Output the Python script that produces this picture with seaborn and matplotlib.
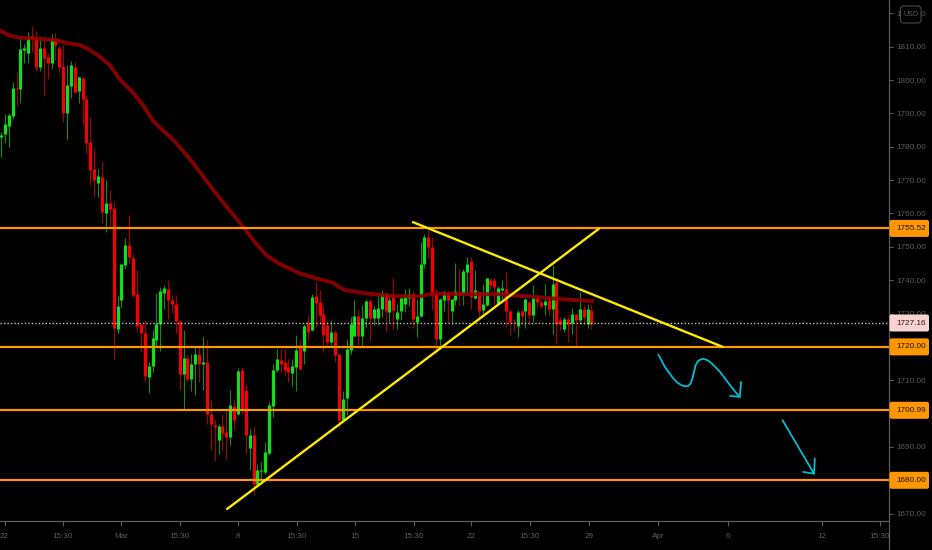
import pandas as pd
import matplotlib
matplotlib.use("Agg")
import matplotlib.pyplot as plt
from matplotlib.lines import Line2D
from matplotlib.patches import FancyBboxPatch
from matplotlib.transforms import IdentityTransform
import seaborn as sns

# Candles
opens = [
    1782.8, 1783.8, 1786.3, 1789.2, 1797.6, 1797.3, 1808.9, 1808, 1813.2, 1812.8,
    1804, 1809.6, 1807, 1805, 1812.2, 1809.6, 1804.2, 1790.2, 1798.3, 1804,
    1796.7, 1800.6, 1794.4, 1781.5, 1773.2, 1769.2, 1771, 1760.2, 1763, 1761.5,
    1725.5, 1734, 1744.5, 1750.5, 1746.7, 1735.8, 1726.8, 1724.3, 1711, 1714.2,
    1722.2, 1726.8, 1736.2, 1737.5, 1734, 1733, 1727.8, 1711.8, 1716.8, 1710.5,
    1714.8, 1718, 1714.8, 1715.5, 1700, 1696.5, 1692, 1696.2, 1694.5, 1693,
    1702.2, 1699.8, 1713, 1707.2, 1689.8, 1693.5, 1679, 1682.7, 1682.5, 1688.3,
    1702.2, 1713, 1716.2, 1715.5, 1714, 1712.2, 1714, 1720.5, 1718.8, 1727.5,
    1725.2, 1735.4, 1733.6, 1729.8, 1726.5, 1721.4, 1724.6, 1717.8, 1698, 1704.7,
    1719.2, 1723.4, 1729.2, 1723.4, 1728.6, 1733.8, 1728.8, 1728.8, 1731.5, 1736.2,
    1730.6, 1735, 1728.5, 1730.8, 1732.8, 1734.6, 1736, 1727.6, 1729.2, 1745,
    1752.8, 1749.8, 1735.8, 1722.5, 1734, 1736.2, 1730.8, 1734, 1736.5, 1735.8,
    1742.5, 1745.7, 1734.8, 1736.5, 1731, 1732.5, 1740.2, 1740.2, 1733, 1737.2,
    1737.5, 1730.8, 1727.5, 1726.2, 1730.8, 1730.8, 1733.6, 1729.5, 1735, 1733.5,
    1732.5, 1734, 1731.5, 1739.4, 1728.2, 1725.5, 1728.5, 1727.2, 1729.8, 1728.2,
    1731.5, 1727, 1731.2,
]
highs = [
    1784.5, 1789.7, 1790.2, 1799.3, 1802.5, 1812.8, 1810.8, 1814.3, 1816.3, 1814.7,
    1812.8, 1812.5, 1808, 1813.8, 1814, 1810.5, 1810.5, 1804.5, 1805.8, 1805.5,
    1801.2, 1801, 1795.4, 1788.8, 1779.5, 1773.2, 1775.6, 1770, 1767, 1763.4,
    1735.3, 1744.8, 1752.5, 1759.5, 1747.7, 1743, 1727, 1728, 1715.5, 1725,
    1736.2, 1738, 1738.5, 1740, 1735.5, 1735.5, 1728, 1725, 1718, 1718,
    1720, 1720.5, 1723, 1722, 1704, 1698.5, 1697, 1700, 1700.8, 1707.2,
    1704.5, 1713.8, 1714, 1708.8, 1695.5, 1696.2, 1685, 1685.5, 1691.5, 1703.5,
    1715, 1719.5, 1719.5, 1719.5, 1716.5, 1716.5, 1723.5, 1722.5, 1727, 1729.5,
    1735.8, 1739.5, 1737.2, 1732.5, 1728.2, 1728, 1725, 1718, 1706.8, 1722.4,
    1729, 1734, 1731, 1732.5, 1734.4, 1734.4, 1732.2, 1735.8, 1737, 1736.6,
    1735.8, 1740.8, 1732.8, 1735, 1737.5, 1737.8, 1736.8, 1734.4, 1751.5, 1753.8,
    1755, 1752.8, 1737.5, 1734.8, 1737.2, 1736.8, 1734.5, 1745.2, 1743.5, 1743.5,
    1746.8, 1747, 1743, 1736.8, 1738.8, 1740.8, 1740.8, 1740.8, 1738.2, 1740,
    1742.5, 1731.5, 1728.5, 1731.2, 1731.2, 1734.8, 1734.2, 1738.5, 1735.5, 1734,
    1739, 1735.5, 1744.5, 1740.5, 1729, 1729, 1729.5, 1731.8, 1730, 1736.5,
    1732.5, 1732.8, 1732.8,
]
lows = [
    1776.8, 1781, 1780, 1788.4, 1792.3, 1793, 1805, 1805.2, 1808.5, 1802.8,
    1802.8, 1795.2, 1800.3, 1803.4, 1806, 1802.2, 1787.5, 1782.2, 1794.5, 1796,
    1793, 1786.5, 1778, 1768.5, 1765, 1764.8, 1757, 1754.5, 1756.3, 1716.4,
    1724.2, 1732, 1743.5, 1745, 1735, 1724.7, 1718.5, 1709.5, 1706.2, 1712.5,
    1720, 1718.7, 1731.5, 1728.5, 1730.2, 1724.2, 1707, 1701.2, 1709.5, 1706.8,
    1705.5, 1709.5, 1707, 1697, 1689.2, 1685.8, 1688, 1689, 1686.5, 1690.5,
    1695.5, 1699.5, 1699.8, 1688, 1683, 1675.5, 1678.5, 1679, 1681.8, 1687.5,
    1699, 1712.5, 1712.5, 1711.5, 1709.5, 1708.2, 1706.8, 1713, 1715, 1722,
    1724.8, 1726, 1727, 1718.5, 1720.5, 1720.5, 1715.5, 1696, 1697.5, 1699.5,
    1718, 1723.2, 1720.5, 1720.5, 1726, 1721.8, 1726.5, 1726.5, 1729, 1724.5,
    1727.5, 1725.5, 1725.5, 1728, 1730.5, 1732.2, 1725.8, 1723, 1729, 1743.7,
    1746.5, 1731.2, 1718, 1720, 1730.8, 1727.5, 1727, 1732.5, 1732.2, 1732.5,
    1735.8, 1731.5, 1734.5, 1728, 1729.5, 1732.3, 1737, 1732.5, 1732.5, 1734.5,
    1726, 1723.5, 1724.8, 1723, 1726.8, 1725.8, 1726.8, 1727.5, 1731.8, 1731.8,
    1729.5, 1729.5, 1724, 1720.8, 1725, 1724.5, 1721.5, 1724, 1720.2, 1726.8,
    1726.8, 1725.8, 1725.5,
]
closes = [
    1783.5, 1786.7, 1789.5, 1797.5, 1797.4, 1809.2, 1809.6, 1812.8, 1812.2, 1804,
    1809.6, 1806.5, 1805, 1812.3, 1810.5, 1804, 1790.2, 1798.5, 1804.5, 1796.5,
    1800.8, 1794.2, 1781.2, 1773, 1770, 1771.2, 1760.4, 1763.2, 1761.2, 1725.8,
    1732.2, 1744.8, 1750.5, 1747, 1735.5, 1726.2, 1724.3, 1711.2, 1714.3, 1722.6,
    1727, 1736.8, 1737.8, 1734, 1733, 1727.8, 1711.8, 1716.8, 1710.5, 1715,
    1717.8, 1714.8, 1715.5, 1700, 1696.8, 1696, 1696.2, 1694.2, 1693, 1702.5,
    1698.2, 1712.7, 1701.2, 1693.5, 1693.5, 1679, 1683, 1683, 1688.5, 1702.5,
    1713.2, 1716.5, 1715, 1713, 1712.5, 1714.2, 1719, 1713.3, 1726.2, 1724.5,
    1735, 1733.2, 1729.5, 1723.5, 1721.5, 1724.6, 1717.5, 1698, 1704.5, 1719.4,
    1727, 1729.2, 1723.3, 1728.8, 1733.8, 1728.8, 1731.4, 1731.8, 1736, 1730.8,
    1734, 1731, 1730.4, 1734.8, 1735.4, 1736, 1728.4, 1729.4, 1745, 1752.8,
    1749.8, 1735.5, 1722.5, 1734.4, 1736.2, 1734.2, 1734.4, 1736.8, 1735.5, 1742.8,
    1745, 1735, 1737, 1730.8, 1732.8, 1740.8, 1738.5, 1738, 1737.8, 1737.8,
    1730.8, 1727.5, 1727.4, 1730.4, 1729.2, 1734.4, 1729.5, 1734.8, 1733.6, 1732.2,
    1733.8, 1731.5, 1738.8, 1727, 1727, 1728.3, 1727, 1729.8, 1728.2, 1731.5,
    1729, 1731.3, 1727,
]

# Moving average
ma_bar = [-0.3, 2.3, 4.9, 10.9, 14.3, 16.5, 20.3, 22.5, 25.2, 28, 30.6, 33.6, 36.5, 39.2,
          41.8, 44.8, 48.5, 52.1, 55, 58.1, 62.3, 65.3, 68.3, 71.5, 74.8, 77, 81.3, 85.6,
          87, 88.6, 94.2, 101, 107.9, 111.3, 119.9, 128.5, 137, 145.6, 152.3]
ma_price = [1814.8, 1813.3, 1812.7, 1812.3, 1812, 1811.2, 1810.5, 1809.3, 1807.2, 1804.5,
            1800.2, 1796.7, 1792.6, 1787.7, 1784.8, 1781.5, 1776.5, 1771, 1766.5, 1762,
            1756, 1751.5, 1747.5, 1745, 1743.2, 1742, 1740.5, 1739.2, 1738, 1737, 1736,
            1735.2, 1735.2, 1736, 1735.8, 1735.8, 1735, 1734.2, 1733.7]

# Price levels and drawings
levels = [1755.52, 1720.00, 1700.99, 1680.00]
last_price = 1727.16
rise_bar = [58.2, 153.9]
rise_price = [1671.4, 1755.4]
fall_bar = [106.05, 185.8]
fall_price = [1757.4, 1720]
curve_bar = [169.2, 170.1, 170.9, 172, 173.1, 174.1, 175.2, 176.1, 176.9, 177.5, 178,
             178.4, 178.8, 179.5, 180.2, 180.8, 181.7, 182.5, 183.8, 185.1, 186.4, 187.7,
             188.9, 190.2]
curve_price = [1717.7, 1715.8, 1714, 1712.2, 1710.5, 1709.3, 1708.5, 1708.2, 1708.3, 1709,
               1710.5, 1712.5, 1714.5, 1715.8, 1716.3, 1716.4, 1716.1, 1715.5, 1714.1,
               1712.5, 1710.5, 1708.5, 1706.7, 1705]
curve_head_bar = [187.7, 190.2, 190.5]
curve_head_price = [1705.3, 1705, 1709.5]
arrow_bar = [201.2, 209.3]
arrow_price = [1698, 1682]
arrow_head_bar = [206.5, 209.3, 209.5]
arrow_head_price = [1682.5, 1682, 1686.5]

# Axis labels (1680 and 1720 sit under their price tags)
y_ticks = [1670, 1680, 1690, 1700, 1710, 1720, 1730, 1740, 1750, 1760, 1770,
           1780, 1790, 1800, 1810, 1820]
y_labels = ["1670.00", "", "1690.00", "", "1710.00", "", "1730.00", "1740.00", "1750.00",
            "1760.00", "1770.00", "1780.00", "1790.00", "1800.00", "1810.00", "1820.00"]
x_ticks = [0.9, 16, 30.9, 46.1, 61, 76.2, 91.1, 106.3, 121, 136.2, 151.4, 169.1,
           187.1, 211.3, 226.3]
x_labels = ["22", "15:30", "Mar", "15:30", "8", "15:30", "15", "15:30", "22",
            "15:30", "29", "Apr", "6", "12", "15:30"]

GREY = "#5c5c5c"
ORANGE = "#ff9800"
YELLOW = "#ffeb00"
CYAN = "#00bcd4"
TICK_SIZE = 5.9

sns.set_theme(style="dark", rc={"axes.facecolor": "black", "figure.facecolor": "black"})
plt.rcParams["font.family"] = ["Liberation Sans"]

df = pd.DataFrame({"open": opens, "high": highs, "low": lows, "close": closes})
df["bar"] = df.index
df["dir"] = ["up" if c >= o else "down" for o, c in zip(opens, closes)]

df["top"] = df[["open", "close"]].max(axis=1)
df["bottom"] = df[["open", "close"]].min(axis=1)
wicks = df.melt(id_vars=["bar", "dir"], value_vars=["high", "low"], value_name="price")
bodies = df.melt(id_vars=["bar", "dir"], value_vars=["top", "bottom"], value_name="price")

fig = plt.figure(figsize=(9.32, 5.5), dpi=100)
ax = fig.add_axes([0, 29 / 550, 889 / 932, 521 / 550])

# Candles: thin wick, then wide body
sns.lineplot(data=wicks, x="bar", y="price", units="bar", estimator=None, hue="dir",
             palette={"up": "#0c8f12", "down": "#a50000"}, linewidth=0.8,
             solid_capstyle="butt", legend=False, ax=ax, zorder=2)
sns.lineplot(data=bodies, x="bar", y="price", units="bar", estimator=None, hue="dir",
             palette={"up": "#10e018", "down": "#f40000"}, linewidth=2.3,
             solid_capstyle="butt", legend=False, ax=ax, zorder=3)

# Moving average
sns.lineplot(x=ma_bar, y=ma_price, estimator=None, sort=False, color="#960000",
             linewidth=2.8, alpha=0.88, ax=ax, zorder=4)

# Levels
ax.axhline(last_price, color="#c4c4c4", linewidth=1, linestyle=(0, (1, 1.5)), zorder=4)
for level in levels:
    ax.axhline(level, color=ORANGE, linewidth=1.6, zorder=5)

# Trend lines and hand drawn arrows
sns.lineplot(x=rise_bar, y=rise_price, estimator=None, color=YELLOW, linewidth=1.7, ax=ax, zorder=6)
sns.lineplot(x=fall_bar, y=fall_price, estimator=None, color=YELLOW, linewidth=1.7, ax=ax, zorder=6)
for xs, ys in [(curve_bar, curve_price), (curve_head_bar, curve_head_price),
               (arrow_bar, arrow_price), (arrow_head_bar, arrow_head_price)]:
    sns.lineplot(x=xs, y=ys, estimator=None, sort=False, color=CYAN, linewidth=1.3,
                 ax=ax, zorder=6)

ax.set_xlim(-0.26, 228.6)
ax.set_ylim(1667.8, 1824)
ax.set_xlabel("")
ax.set_ylabel("")
ax.grid(False)

ax.yaxis.tick_right()
ax.set_yticks(y_ticks)
ax.set_yticklabels(y_labels)
ax.set_xticks(x_ticks)
ax.set_xticklabels(x_labels)
ax.tick_params(axis="y", colors=GREY, labelsize=TICK_SIZE, length=3, width=0.8, pad=2.5, right=True)
ax.tick_params(axis="x", colors=GREY, labelsize=TICK_SIZE, length=3.5, width=0.8, pad=5, bottom=True)

for side in ["top", "left"]:
    ax.spines[side].set_visible(False)
for side in ["right", "bottom"]:
    ax.spines[side].set_color(GREY)
    ax.spines[side].set_linewidth(0.9)

# Right axis line runs on to the bottom of the image
fig.add_artist(Line2D([889 / 932, 889 / 932], [0, 29 / 550], color=GREY, linewidth=0.9))

# Price tags, sized in pixels
def price_tag(price, fill, text_color):
    y_px = ax.transData.transform((0, price))[1]
    fig.add_artist(FancyBboxPatch((889.5, y_px - 8.5), 39.5, 17,
                                  boxstyle="round,pad=0,rounding_size=2",
                                  facecolor=fill, edgecolor="none",
                                  transform=IdentityTransform(), zorder=8))
    fig.text(896.5 / 932, y_px / 550, f"{price:.2f}", ha="left", va="center",
             fontsize=TICK_SIZE, color=text_color, zorder=9)

for level in levels:
    price_tag(level, ORANGE, "#1c1300")
price_tag(last_price, "#f8d3d0", "#2a1a1a")

# Currency box over the top axis label
fig.add_artist(FancyBboxPatch((900.5, 527), 20.5, 17,
                              boxstyle="round,pad=0,rounding_size=3",
                              facecolor="black", edgecolor="#4a4a4a", linewidth=0.8,
                              transform=IdentityTransform(), zorder=8))
fig.text(910.7 / 932, 535.5 / 550, "USD", ha="center", va="center", fontsize=5.2,
         color=GREY, zorder=9)

fig.savefig("out.png", dpi=100, facecolor="black")
